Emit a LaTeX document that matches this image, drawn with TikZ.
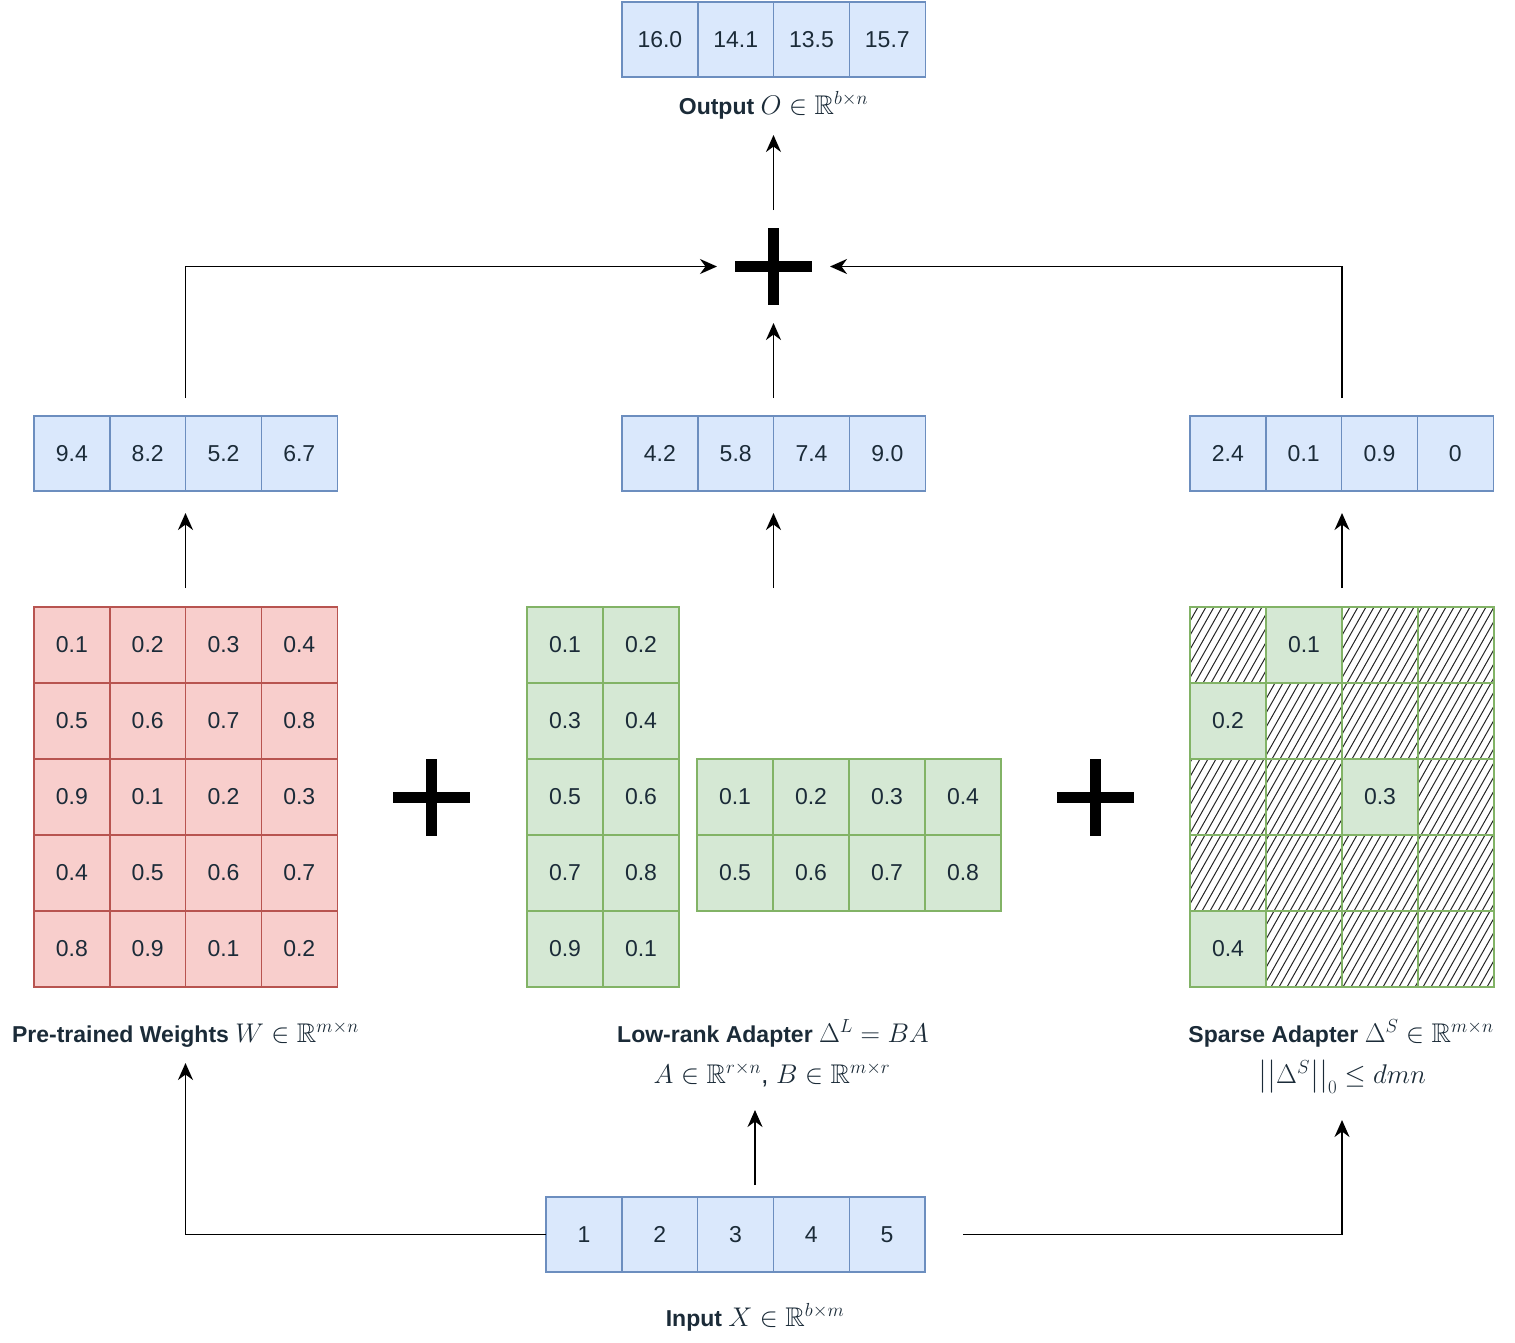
\RequirePackage{fix-cm}
\documentclass[tikz,border=0pt]{standalone}
\usepackage{amsmath}
\usepackage{amssymb}
\usepackage{fontspec}
\newfontfamily\hv{Liberation Sans}
\usetikzlibrary{arrows.meta,calc}
\definecolor{bfill}{HTML}{DAE8FC}
\definecolor{bline}{HTML}{6C8EBF}
\definecolor{rfill}{HTML}{F8CECC}
\definecolor{rline}{HTML}{B85450}
\definecolor{gfill}{HTML}{D5E8D4}
\definecolor{gline}{HTML}{82B366}
\definecolor{txt}{HTML}{1B2B38}
\newcommand\lmath[1]{{\fontsize{27}{30}\selectfont$#1$}}
\tikzset{
  cell/.style={draw, line width=1.4pt, minimum width=75.8pt, minimum height=75.8pt,
    inner sep=0pt, outer sep=0pt, font=\hv\fontsize{23}{28}\selectfont, text=txt},
  bcell/.style={cell, fill=bfill, draw=bline},
  rcell/.style={cell, fill=rfill, draw=rline},
  gcell/.style={cell, fill=gfill, draw=gline},
  hcell/.style={cell, draw=gline},
  frame/.style={inner sep=0pt, outer sep=0pt, minimum width=#1},
  lab/.style={inner sep=0pt, font=\hv\fontsize{23}{28}\selectfont, text=txt},
  arr/.style={-{Stealth[length=17pt,width=15pt,inset=5.5pt]}, line width=1.8pt},
  hatch/.style={line width=1pt, draw=black!85},
  plussign/.style={minimum size=77pt, inner sep=0pt, outer sep=18pt,
    path picture={
      \fill[black] ($(path picture bounding box.center)+(-38.5,-5.5)$) rectangle ($(path picture bounding box.center)+(38.5,5.5)$);
      \fill[black] ($(path picture bounding box.center)+(-5.5,-38.5)$) rectangle ($(path picture bounding box.center)+(5.5,38.5)$);
    }},
}
\begin{document}
\begin{tikzpicture}[x=1pt,y=-1pt]
\useasboundingbox[fill=white] (0,0) rectangle (1515,1342);

% ---------- output row
\node[frame=303pt, minimum height=75pt] (orow) at (773.5,39.5) {};
\foreach \v [count=\i from 0] in {16.0,14.1,13.5,15.7}
  \node[bcell, minimum height=75pt] (o\i) at (622+37.9+75.8*\i,39.5) {\v};
\node[lab, anchor=base] (olab) at (773.5,114) {\bfseries Output \mdseries\lmath{O\in\mathbb{R}^{b\times n}}};

% ---------- sum
\node[plussign] (sum) at (773.5,266.5) {};
\coordinate (otip) at (773.5,135);

% ---------- middle rows
\node[frame=303pt, minimum height=75pt] (wrow) at (185.5,453.5) {};
\foreach \v [count=\i from 0] in {9.4,8.2,5.2,6.7}
  \node[bcell, minimum height=75pt] (w\i) at (34+37.9+75.8*\i,453.5) {\v};
\node[frame=303pt, minimum height=75pt] (lrow) at (773.5,453.5) {};
\foreach \v [count=\i from 0] in {4.2,5.8,7.4,9.0}
  \node[bcell, minimum height=75pt] (l\i) at (622+37.9+75.8*\i,453.5) {\v};
\node[frame=303pt, minimum height=75pt] (srow) at (1342,453.5) {};
\foreach \v [count=\i from 0] in {2.4,0.1,0.9,0}
  \node[bcell, minimum height=75pt] (s\i) at (1190+37.9+75.8*\i,453.5) {\v};

% ---------- pre-trained weights
\node[frame=303pt, minimum height=380pt] (Wmat) at (185.5,797) {};
\foreach \row [count=\r from 0] in {{0.1,0.2,0.3,0.4},{0.5,0.6,0.7,0.8},{0.9,0.1,0.2,0.3},{0.4,0.5,0.6,0.7},{0.8,0.9,0.1,0.2}}
  \foreach \v [count=\c from 0] in \row
    \node[rcell] (W\r\c) at (34+37.9+75.8*\c,607+38+76*\r) {\v};

\node[plussign, outer sep=0pt] (plusA) at (431.5,797) {};

% ---------- low-rank B
\node[frame=152pt, minimum height=380pt] (Bmat) at (603,797) {};
\foreach \row [count=\r from 0] in {{0.1,0.2},{0.3,0.4},{0.5,0.6},{0.7,0.8},{0.9,0.1}}
  \foreach \v [count=\c from 0] in \row
    \node[gcell] (B\r\c) at (527+38+76*\c,607+38+76*\r) {\v};
% ---------- low-rank A
\node[frame=304pt, minimum height=152pt] (Amat) at (849,835) {};
\foreach \row [count=\r from 0] in {{0.1,0.2,0.3,0.4},{0.5,0.6,0.7,0.8}}
  \foreach \v [count=\c from 0] in \row
    \node[gcell] (A\r\c) at (697+38+76*\c,759+38+76*\r) {\v};

\node[plussign, outer sep=0pt] (plusB) at (1095.5,797) {};

% ---------- sparse
\node[frame=304pt, minimum height=380pt] (Smat) at (1342,797) {};
\begin{scope}
  \clip (1190,607) rectangle (1494,987);
  \foreach \k in {0,...,70}
    \draw[hatch] (1190-215+\k*8,987) -- ++(215,-380);
\end{scope}
\foreach \r in {0,...,4}
  \foreach \c in {0,...,3}
    \node[hcell] (S\r\c) at (1190+38+76*\c,607+38+76*\r) {};
\node[gcell] at (S01) {0.1};
\node[gcell] at (S10) {0.2};
\node[gcell] at (S22) {0.3};
\node[gcell] at (S40) {0.4};

% ---------- labels
\node[lab, anchor=base] (wlab) at (185.5,1042) {\bfseries Pre-trained Weights \mdseries\lmath{W\in\mathbb{R}^{m\times n}}};
\node[lab, anchor=base] (llab) at (773,1042) {\bfseries Low-rank Adapter \mdseries\lmath{\Delta^L = BA}};
\node[lab, anchor=base] (llab2) at (772,1083) {\lmath{A\in\mathbb{R}^{r\times n}\text{, }B\in\mathbb{R}^{m\times r}}};
\node[lab, anchor=base] (slab) at (1341,1042) {\bfseries Sparse Adapter \mdseries\lmath{\Delta^S\in\mathbb{R}^{m\times n}}};
\node[lab, anchor=base] (slab2) at (1342,1083) {\lmath{\big|\big|\Delta^S\big|\big|_0 \le dmn}};

% ---------- input
\node[frame=379pt, minimum height=75pt] (inrow) at (735.5,1234.5) {};
\foreach \v [count=\i from 0] in {1,2,3,4,5}
  \node[bcell, minimum height=75pt] (x\i) at (546+37.9+75.8*\i,1234.5) {\v};
\node[lab, anchor=base] (ilab) at (755,1326) {\bfseries Input \mdseries\lmath{X\in\mathbb{R}^{b\times m}}};

\coordinate (wtip) at (185.5,1063);
\coordinate (lbot) at (755,1185);
\coordinate (ltip) at (755,1110);
\coordinate (stip) at (1342,1120);

% ---------- connectors
\draw[arr] (sum.north) -- (otip);
\draw[arr, shorten <=18pt] (wrow.north) |- (sum.west);
\draw[arr, shorten <=18pt] (lrow.north) -- (sum.south);
\draw[arr, shorten <=18pt] (srow.north) |- (sum.east);
\draw[arr, shorten <=19pt, shorten >=22pt] (Wmat.north) -- (wrow.south);
\draw[arr, shorten <=19pt, shorten >=22pt] (lrow.south |- Bmat.north) -- (lrow.south);
\draw[arr, shorten <=19pt, shorten >=22pt] (Smat.north) -- (srow.south);
\draw[arr] (inrow.west) -| (wtip);
\draw[arr] (lbot) -- (ltip);
\draw[arr, shorten <=38pt] (inrow.east) -| (stip);
\end{tikzpicture}
\end{document}
